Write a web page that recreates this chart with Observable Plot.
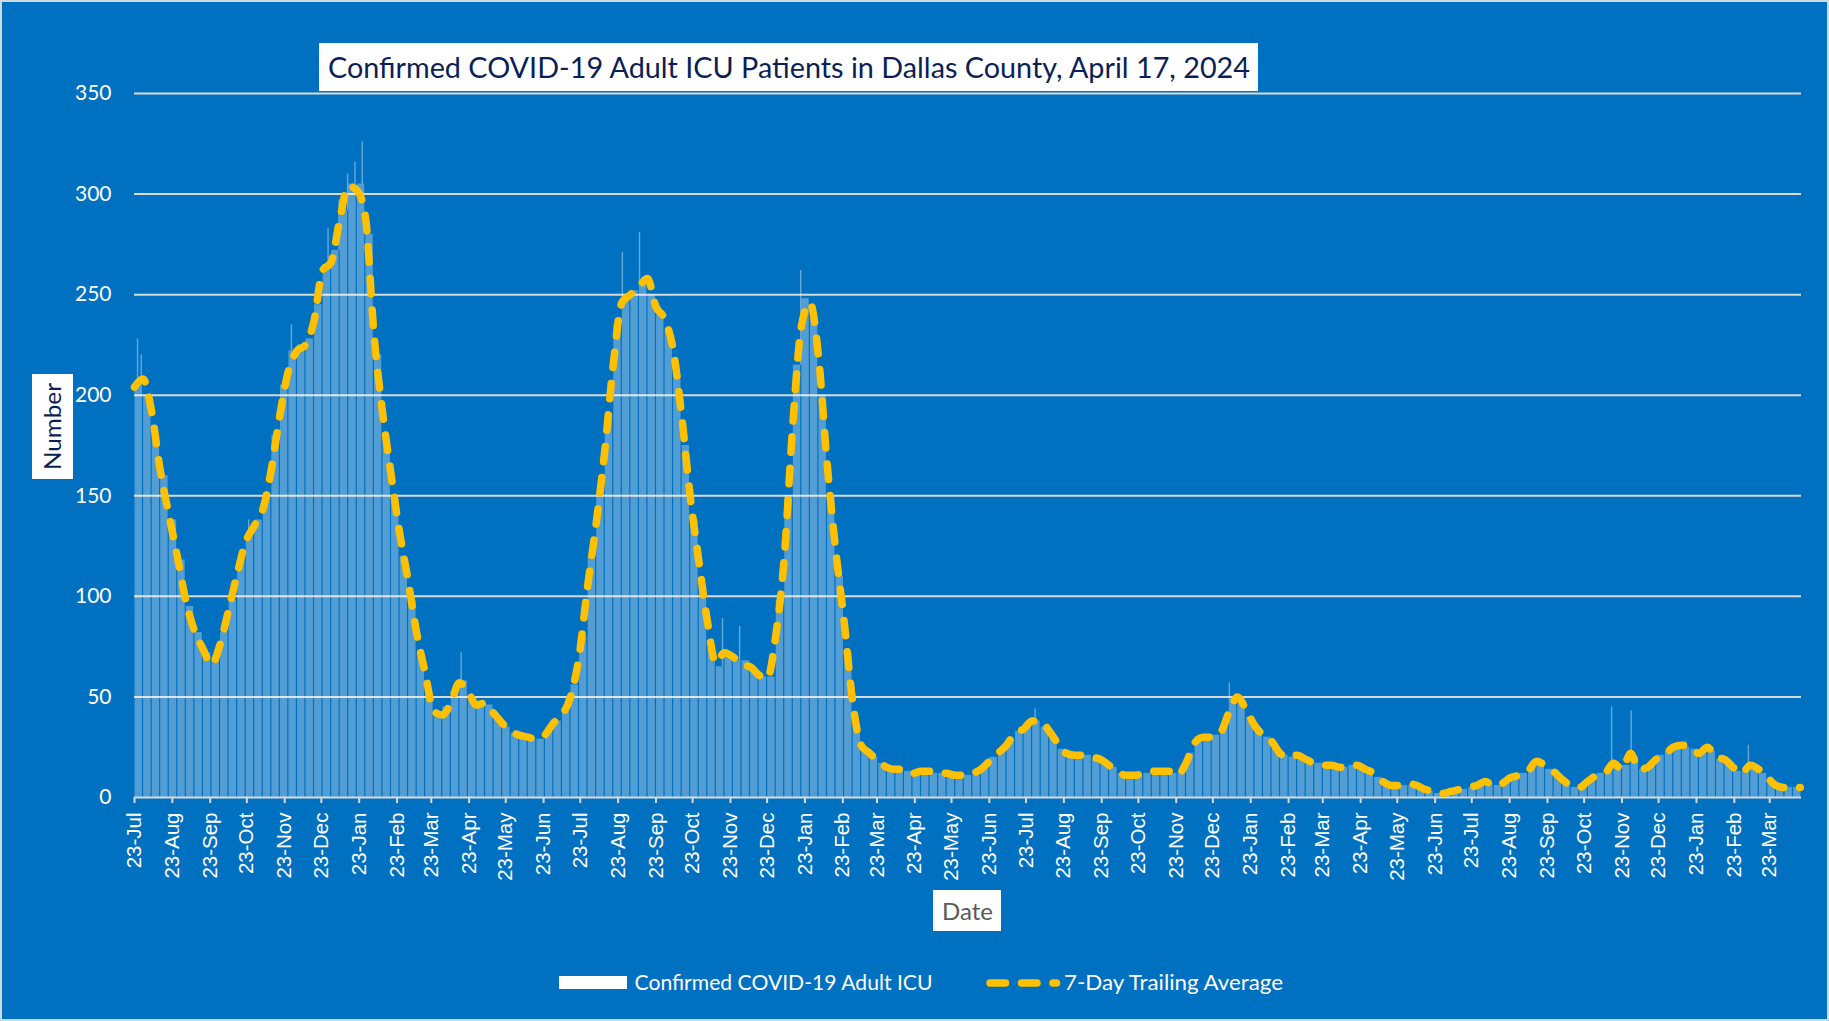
<!DOCTYPE html>
<html>
<head>
<meta charset="utf-8">
<script src="https://cdn.jsdelivr.net/npm/d3@7"></script>
<script src="https://cdn.jsdelivr.net/npm/@observablehq/plot@0.6"></script>
<style>
  html, body { margin: 0; padding: 0; background: #ffffff; }
  #wrap { position: relative; width: 1829px; height: 1021px; overflow: hidden; background: #0070C0; }
  #wrap > svg { position: absolute; left: 0; top: 0; }
</style>
</head>
<body>
<div id="wrap"></div>
<script>
// ---------------- DATA ----------------
const startDate = "2020-07-23";   // first day shown
const endDate = "2024-04-18";     // day after the last day shown (Apr 17, 2024)

const weeklyAverage = [
  204,208,192,163,141,120,98,83,74,66,
  76,93,111,127,135,143,163,190,212,222,
  225,237,262,266,287,304,302,289,231,192,
  161,132,108,82,62,43,41,47,57,53,
  46,47,42,37,33,31,30,29,31,37,
  41,50,70,105,136,172,215,246,250,254,
  258,244,238,223,190,150,118,88,67,72,
  70,66,65,61,59,80,119,185,234,246,
  220,167,124,88,48,26,22,18,15,14,
  14,12,13,13,12,12,11,11,12,14,
  18,22,26,32,34,38,38,33,27,22,
  21,21,20,19,16,13,11,11,12,13,
  13,13,11,17,27,30,30,32,42,50,
  44,36,31,28,22,20,21,19,17,16,
  16,15,16,16,14,12,8,6,6,7,
  6,4,3,2,3,4,5,6,8,6,
  7,10,11,13,18,16,13,9,6,5,
  8,11,12,17,14,22,14,15,19,21,
  25,26,25,22,25,20,19,15,12,16,
  14,10,6,5,5
];

// Confirmed COVID-19 adult ICU patients (bar heights), read once per week from 2020-07-23
const weeklyPatients = [
  205,200,180,160,138,118,95,82,72,68,
  82,98,118,130,138,150,180,205,222,225,
  228,245,265,272,292,305,305,280,220,178,
  148,120,98,72,52,42,45,52,58,50,
  47,46,40,35,32,30,29,29,33,38,
  43,56,80,120,152,190,235,250,252,255,
  250,240,232,210,175,138,105,74,65,72,
  68,68,62,60,60,98,150,215,248,240,
  200,150,110,72,36,24,20,17,14,14,
  13,12,13,12,12,12,11,11,13,16,
  20,24,28,33,35,38,35,30,24,21,
  21,21,19,18,15,12,11,11,12,13,
  13,12,13,22,30,30,31,36,48,47,
  40,33,30,25,21,20,21,18,17,16,
  16,15,16,15,13,10,7,6,6,6,
  5,3,2,2,3,4,5,7,7,6,
  8,11,12,15,17,14,11,8,5,6,
  9,12,14,16,16,20,14,17,21,23,
  26,25,24,23,23,19,18,13,13,15,
  12,8,5,5,5
];

// Single-day spikes standing out above the bars
const peakDates = ["2020-07-25","2020-07-28","2020-10-24","2020-11-28","2020-12-28","2021-01-06",
  "2021-01-13","2021-01-19","2021-01-25","2021-04-16","2021-08-26","2021-09-09","2021-11-16",
  "2021-11-30","2022-01-19","2022-07-30","2023-01-05","2023-11-14","2023-11-30","2024-03-05"];
const peakValues = [228,220,138,235,283,297,310,316,326,72,271,281,89,85,262,44,57,45,43,26];

const yTicks = [0, 50, 100, 150, 200, 250, 300, 350];
const xTickDates = [
  "2020-07-23","2020-08-23","2020-09-23","2020-10-23","2020-11-23","2020-12-23",
  "2021-01-23","2021-02-23","2021-03-23","2021-04-23","2021-05-23","2021-06-23",
  "2021-07-23","2021-08-23","2021-09-23","2021-10-23","2021-11-23","2021-12-23",
  "2022-01-23","2022-02-23","2022-03-23","2022-04-23","2022-05-23","2022-06-23",
  "2022-07-23","2022-08-23","2022-09-23","2022-10-23","2022-11-23","2022-12-23",
  "2023-01-23","2023-02-23","2023-03-23","2023-04-23","2023-05-23","2023-06-23",
  "2023-07-23","2023-08-23","2023-09-23","2023-10-23","2023-11-23","2023-12-23",
  "2024-01-23","2024-02-23","2024-03-23"
];

const titleText = "Confirmed COVID-19 Adult ICU Patients in Dallas County, April 17, 2024";
const yLabel = "Number";
const xLabel = "Date";
const barLegend = "Confirmed COVID-19 Adult ICU";
const lineLegend = "7-Day Trailing Average";

// ---------------- BUILD ----------------
const start = new Date(startDate + "T00:00:00Z");
const end = new Date(endDate + "T00:00:00Z");
const lastDay = d3.utcDay.offset(end, -1);
const weekStart = i => d3.utcDay.offset(start, 7 * i);

const bars = weeklyPatients.map((v, i) => {
  const a = weekStart(i);
  const b = d3.utcDay.offset(a, 7);
  return {x1: a, x2: b > end ? end : b, y: v};
});
const avg = weeklyAverage.map((v, i) => ({
  date: i === weeklyAverage.length - 1 ? lastDay : weekStart(i), value: v
}));
const peaks = peakDates.map((d, i) => {
  const dt = new Date(d + "T12:00:00Z");
  const idx = Math.floor(d3.utcDay.count(start, dt) / 7);
  return {date: dt, base: weeklyPatients[idx], value: peakValues[i]};
});
const ticks = xTickDates.map(d => new Date(d + "T00:00:00Z"));
const fmt = d3.utcFormat("%d-%b");

const W = 1829, H = 1021;
const chart = Plot.plot({
  width: W, height: H,
  marginLeft: 134, marginRight: 28, marginTop: 93, marginBottom: 224,
  style: {background: "transparent", color: "white", overflow: "visible"},
  x: {type: "utc", domain: [start, end], axis: null},
  y: {domain: [0, 350], axis: null},
  marks: [
    Plot.ruleY(yTicks.filter(d => d > 0), {stroke: "#D9D9D9", strokeWidth: 2}),
    Plot.rectY(bars, {x1: "x1", x2: "x2", y: "y", fill: "white", fillOpacity: 0.32, insetLeft: 0.6, insetRight: 0.6}),
    Plot.ruleX(peaks, {x: "date", y1: "base", y2: "value", stroke: "white", strokeOpacity: 0.4, strokeWidth: 1.4}),
    Plot.ruleY([0], {stroke: "#D9D9D9", strokeWidth: 2}),
    Plot.line(avg, {x: "date", y: "value", stroke: "#FFC000", strokeWidth: 7.5,
      strokeDasharray: "15.5,16", strokeLinecap: "round", strokeLinejoin: "round", curve: "monotone-x"}),
    Plot.axisY({ticks: yTicks, tickSize: 0, tickPadding: 23, fontSize: 21, fill: "white",
      fontFamily: "Lato", tickFormat: d => String(d)}),
    Plot.axisX({ticks: ticks, tickFormat: fmt, tickRotate: -90, tickSize: 6, tickPadding: 9,
      stroke: "#D9D9D9", strokeWidth: 2, fill: "white", fontSize: 20.5, fontFamily: "Liberation Sans"})
  ]
});
const wrap = document.getElementById("wrap");
wrap.appendChild(chart);

// ---------------- OVERLAY TEXT (title, axis titles, legend) ----------------
const ns = "http://www.w3.org/2000/svg";
const ov = document.createElementNS(ns, "svg");
ov.setAttribute("width", W); ov.setAttribute("height", H);
ov.setAttribute("viewBox", `0 0 ${W} ${H}`);
function el(tag, attrs, text) {
  const e = document.createElementNS(ns, tag);
  for (const k in attrs) e.setAttribute(k, attrs[k]);
  if (text != null) e.textContent = text;
  ov.appendChild(e);
  return e;
}
// outer frame
el("rect", {x: 1, y: 1, width: W - 2, height: H - 2, fill: "none", stroke: "#D0D8E0", "stroke-width": 2});
// title
el("rect", {x: 319, y: 43, width: 939, height: 48, fill: "white"});
el("text", {x: 328, y: 78, "font-family": "Lato", "font-size": 29, fill: "#0B1F56",
  textLength: 922, lengthAdjust: "spacingAndGlyphs"}, titleText);
// y label
el("rect", {x: 32, y: 374, width: 41, height: 105, fill: "white"});
el("text", {x: 0, y: 0, transform: "translate(61,426.5) rotate(-90)", "text-anchor": "middle",
  "font-family": "Lato", "font-size": 24, fill: "#0B1F56", textLength: 87, lengthAdjust: "spacingAndGlyphs"}, yLabel);
// x label
el("rect", {x: 933, y: 890, width: 68, height: 41, fill: "white"});
el("text", {x: 942, y: 920, "font-family": "Lato", "font-size": 23, fill: "#595959",
  textLength: 51, lengthAdjust: "spacingAndGlyphs"}, xLabel);
// legend
el("rect", {x: 559, y: 976, width: 68, height: 13, fill: "white"});
el("text", {x: 634.5, y: 990, "font-family": "Lato", "font-size": 21, fill: "white",
  textLength: 298, lengthAdjust: "spacingAndGlyphs"}, barLegend);
el("line", {x1: 990, y1: 983, x2: 1056.5, y2: 983, stroke: "#FFC000", "stroke-width": 7.5,
  "stroke-dasharray": "15.5,16", "stroke-linecap": "round"});
el("text", {x: 1064, y: 990, "font-family": "Lato", "font-size": 21, fill: "white",
  textLength: 219, lengthAdjust: "spacingAndGlyphs"}, lineLegend);
wrap.appendChild(ov);
</script>
</body>
</html>
